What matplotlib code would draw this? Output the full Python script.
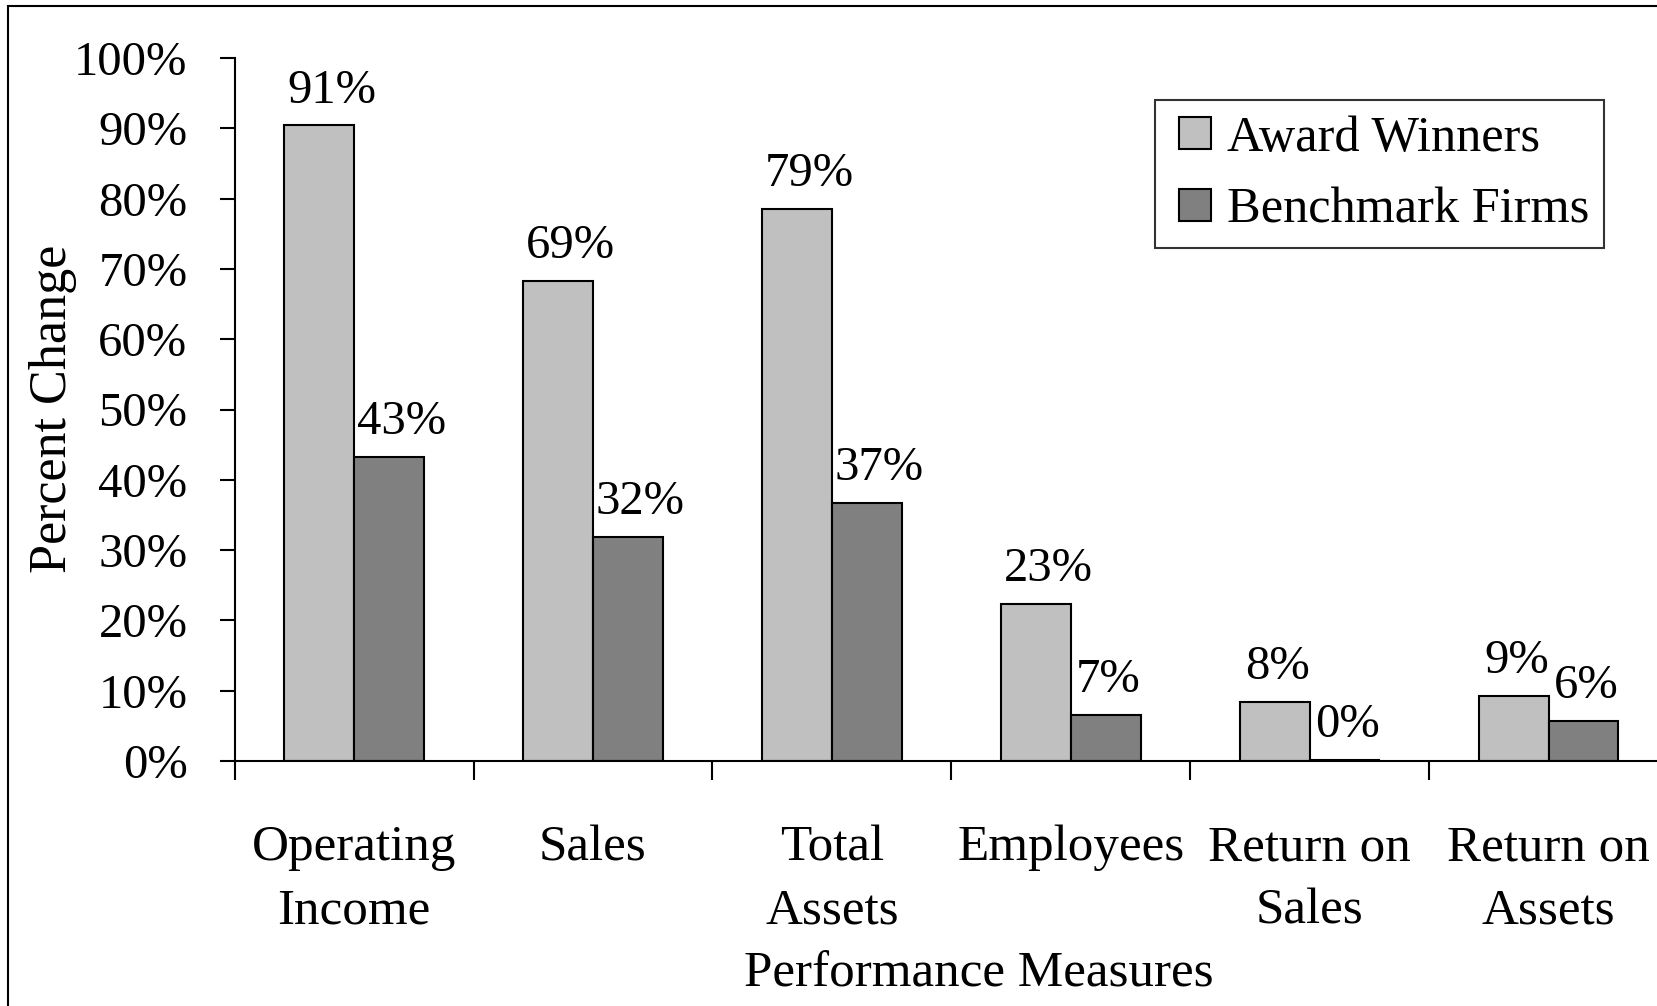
import matplotlib
matplotlib.use("Agg")
import matplotlib.pyplot as plt
import numpy as np
from matplotlib.patches import Rectangle
from matplotlib.legend_handler import HandlerPatch

categories = ["Operating\nIncome", "Sales", "Total\nAssets", "Employees",
              "Return on\nSales", "Return on\nAssets"]
award = [90.4, 68.3, 78.5, 22.4, 8.4, 9.2]
bench = [43.3, 31.9, 36.7, 6.5, 0.2, 5.7]
award_labels = ["91%", "69%", "79%", "23%", "8%", "9%"]
bench_labels = ["43%", "32%", "37%", "7%", "0%", "6%"]
yticks = [0, 10, 20, 30, 40, 50, 60, 70, 80, 90, 100]
ytick_labels = ["0%", "10%", "20%", "30%", "40%", "50%", "60%", "70%",
                "80%", "90%", "100%"]

plt.rcParams['font.family'] = ['Liberation Serif', 'DejaVu Serif']
fs = 35    # ticks, bar labels
fs2 = 36.8  # category names, axis titles

W, H = 1657, 1006
fig = plt.figure(figsize=(W / 100, H / 100), dpi=100)
ax = fig.add_axes([234.6 / W, 245 / H, (1668 - 234.6) / W, (948 - 245) / H])

x = np.arange(len(categories))
w = 0.292
b1 = ax.bar(x - w / 2, award, w, color='#c0c0c0', edgecolor='black',
            linewidth=1.5, label='Award Winners')
b2 = ax.bar(x + w / 2, bench, w, color='#808080', edgecolor='black',
            linewidth=1.5, label='Benchmark Firms')

# labels sit a little right of the bar centre, as in the original
for rects, labs in ((b1, award_labels), (b2, bench_labels)):
    for r, lab in zip(rects, labs):
        dx = 9 if len(lab) == 3 else 2
        ax.annotate(lab, (r.get_x() + r.get_width() / 2, r.get_height()),
                    xytext=(dx, 16.5), textcoords='offset points',
                    ha='center', va='baseline', fontsize=fs)

ax.set_xlim(-0.5, len(categories) - 0.5)
ax.set_ylim(0, 100)
ax.set_yticks(yticks)
ax.set_yticklabels(ytick_labels, fontsize=fs)
ax.tick_params(axis='y', length=11, width=1.5, pad=23, direction='out')

ax.set_xticks(x)
ax.set_xticklabels(categories, fontsize=fs2, linespacing=1.48)
ax.set_xticks(np.arange(len(categories) + 1) - 0.5, minor=True)
ax.tick_params(axis='x', which='major', length=0, pad=46)
ax.tick_params(axis='x', which='minor', length=14, width=1.5, direction='out')

for s in ('top', 'right'):
    ax.spines[s].set_visible(False)
for s in ('left', 'bottom'):
    ax.spines[s].set_linewidth(1.5)

fig.text(53 / W, 1 - 409 / H, "Percent Change", rotation=90, fontsize=37.5,
         ha='center', va='center')
fig.text(979 / W, 1 - 974 / H, "Performance Measures", fontsize=fs2,
         ha='center', va='center')


# small square swatch pushed to the right of its handle box
def square(legend, orig_handle, xdescent, ydescent, width, height, fontsize):
    s = 0.64 * fontsize
    return Rectangle((-xdescent + width - s, -ydescent), s, height)


handles = [b1.patches[0], b2.patches[0]]
leg = ax.legend(handles, ['Award Winners', 'Benchmark Firms'],
                loc='upper left', bbox_to_anchor=(1155 / W, 1 - 100 / H),
                bbox_transform=fig.transFigure, borderaxespad=0,
                fontsize=36.3, fancybox=False, frameon=True, edgecolor='black',
                handlelength=0.82, handleheight=0.6, handletextpad=0.3,
                labelspacing=0.5, borderpad=0.3,
                handler_map={h: HandlerPatch(patch_func=square) for h in handles})
leg.get_frame().set_linewidth(1.5)

fig.patches.append(Rectangle((8 / W, -0.1), 1.2, 1.1 - 6 / H, fill=False,
                             edgecolor='black', linewidth=1.5,
                             transform=fig.transFigure))

fig.savefig("out.png", dpi=100)
